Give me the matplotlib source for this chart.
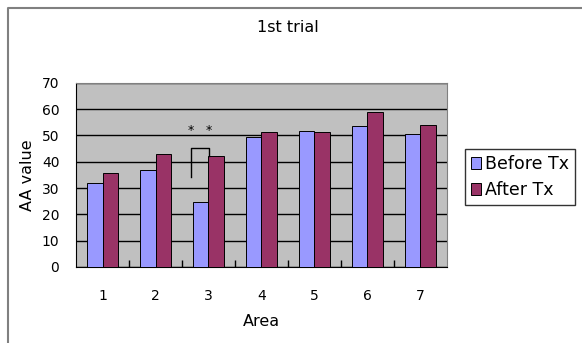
import numpy as np
import matplotlib.pyplot as plt
from matplotlib.lines import Line2D

areas = ['1', '2', '3', '4', '5', '6', '7']
before_tx = [32.0, 36.9, 24.8, 49.4, 51.7, 53.5, 50.6]
after_tx = [35.6, 42.8, 42.2, 51.2, 51.1, 58.9, 54.1]
series_names = ['Before Tx', 'After Tx']
y_ticks = [0, 10, 20, 30, 40, 50, 60, 70]

W, H = 582, 343
fig = plt.figure(figsize=(W / 100, H / 100), dpi=100)
fig.patch.set_facecolor('white')

# plot area in pixel terms
left, right, top, bottom = 76, 447, 82.7, 267
ax = fig.add_axes([left / W, 1 - bottom / H, (right - left) / W, (bottom - top) / H])
ax.set_facecolor('#c0c0c0')

x = np.arange(len(areas))
w = 0.29
ax.bar(x - w / 2, before_tx, w, color='#9999ff', edgecolor='black', linewidth=0.7,
       label=series_names[0], zorder=3)
ax.bar(x + w / 2, after_tx, w, color='#993366', edgecolor='black', linewidth=0.7,
       label=series_names[1], zorder=3)

ax.set_xlim(-0.5, len(areas) - 0.5)
ax.set_ylim(0, 70)
ax.set_yticks(y_ticks)
ax.set_yticklabels([str(v) for v in y_ticks], fontsize=10)
ax.tick_params(axis='y', length=0, pad=12)
ax.yaxis.grid(True, color='black', linewidth=1.0, zorder=1)
ax.set_axisbelow(True)

# category labels centred, tick marks on the boundaries
ax.set_xticks(x)
ax.set_xticklabels(areas, fontsize=10)
ax.tick_params(axis='x', which='major', length=0, pad=16)
ax.set_xticks(np.arange(0.5, len(areas) - 0.5, 1.0), minor=True)
ax.tick_params(axis='x', which='minor', direction='in', length=5, width=1, color='black')

for s in ['top', 'right']:
    ax.spines[s].set_color('#808080')
for s in ['left', 'bottom']:
    ax.spines[s].set_color('black')

ax.set_xlabel('Area', fontsize=11.5, labelpad=8)
ax.set_ylabel('AA value', fontsize=11.5, labelpad=5)

# significance bracket on area 3
bx0, bx1 = 1.664, 2.01
ax.plot([bx0, bx0, bx1, bx1], [34.2, 45.1, 45.1, 42.2], color='black', linewidth=1.0, zorder=4)
ax.text(bx0, 51.8, '*', ha='center', va='center', fontsize=9, zorder=4)
ax.text(bx1, 51.8, '*', ha='center', va='center', fontsize=9, zorder=4)

fig.text(287.5 / W, 1 - 27.7 / H, '1st trial', ha='center', va='center', fontsize=11.5)

leg = fig.legend(loc='upper left', bbox_to_anchor=(465 / W, 1 - 149 / H),
                 fontsize=12.5, frameon=True, fancybox=False, edgecolor='black',
                 borderaxespad=0, borderpad=0.35, handlelength=0.6, handleheight=0.65,
                 handletextpad=0.2, labelspacing=0.45)
leg.get_frame().set_linewidth(1.0)

# chart border (top and left edges)
fig.add_artist(Line2D([8 / W, 8 / W, 1], [0, 1 - 8 / H, 1 - 8 / H],
                      transform=fig.transFigure, color='#808080', linewidth=1.5))

fig.savefig('out.png', dpi=100)
